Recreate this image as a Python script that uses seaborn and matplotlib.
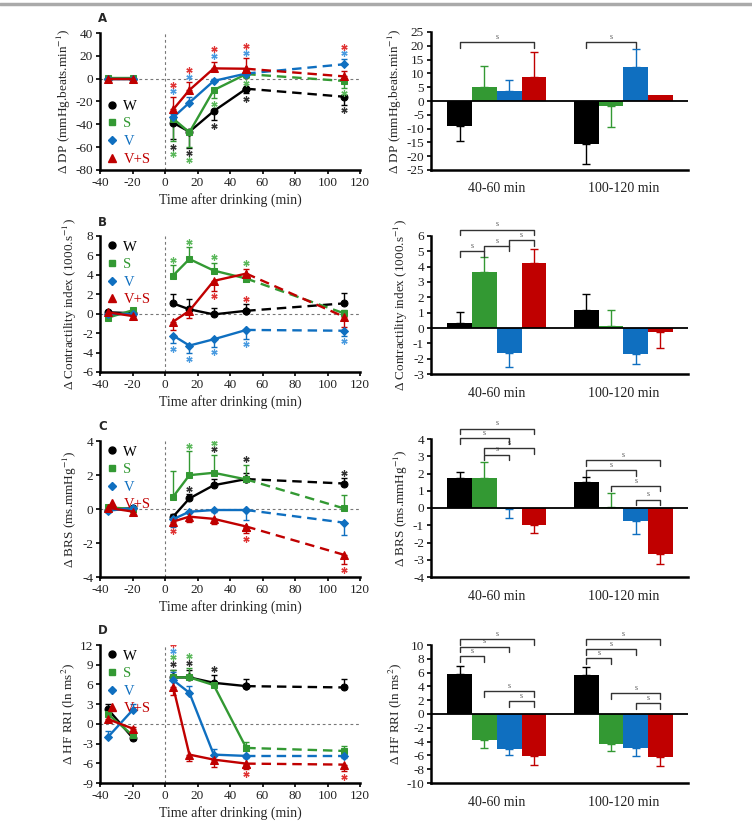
import numpy as np
import pandas as pd
import matplotlib
matplotlib.use('Agg')
import matplotlib.pyplot as plt
from matplotlib.lines import Line2D
from matplotlib.container import BarContainer
import seaborn as sns

# ---- data ----
groups = ['W', 'S', 'V', 'V+S']
periods = ['40-60 min', '100-120 min']
times = [-35, -20, 5, 15, 30, 50, 110]

# panel A: double product
A_line = {
    'W': [0, 0, -38.6, -46.5, -28.4, -8.8, -15.8],
    'S': [0.5, 0.5, -35, -47, -10, 4, -2],
    'V': [0, 0, -34, -21, -2, 4.5, 12.6],
    'V+S': [0, 0, -27, -10, 9, 8.7, 2],
}
A_line_err = {
    'W': [0, 0, -14, -14, -8, -4, -7],
    'S': [0, 0, -20, -13, -7, -3, -6],
    'V': [0, 0, 3, 5, 2, 3, 5],
    'V+S': [0, 0, 11, 7, 6, 9, 5],
}
A_bar = {'W': [-9.2, -15.7], 'S': [5.2, -1.8], 'V': [3.8, 12.2], 'V+S': [8.7, 2.2]}
A_bar_err = {'W': [-5.3, -7.1], 'S': [7.5, -7.5], 'V': [3.7, 6.8], 'V+S': [9.2, 0]}

# panel B: contractility index
B_line = {
    'W': [0.15, 0.05, 1.06, 0.45, -0.07, 0.3, 1.06],
    'S': [-0.4, 0.35, 3.93, 5.63, 4.44, 3.62, 0.05],
    'V': [0, 0, -2.25, -3.28, -2.63, -1.67, -1.75],
    'V+S': [0.14, -0.24, -0.82, 0.3, 3.38, 4.13, -0.3],
}
B_line_err = {
    'W': [0, 0, 1.0, 1.05, 0.67, 0.65, 1.1],
    'S': [0, 0, 1.05, 1.2, 0.8, 0.5, 0.3],
    'V': [0, 0, -0.8, -0.8, -0.8, -0.9, -0.55],
    'V+S': [0, 0, -0.9, -0.75, -1.0, 0.5, -1.05],
}
B_bar = {'W': [0.35, 1.15], 'S': [3.63, 0.1], 'V': [-1.63, -1.72], 'V+S': [4.22, -0.27]}
B_bar_err = {'W': [0.7, 1.05], 'S': [1.02, 1.1], 'V': [-0.92, -0.63], 'V+S': [0.93, -1.03]}

# panel C: baroreflex sensitivity
C_line = {
    'W': [-0.05, 0.05, -0.45, 0.62, 1.4, 1.76, 1.5],
    'S': [0.1, 0.0, 0.72, 1.99, 2.13, 1.74, 0.04],
    'V': [-0.1, 0.05, -0.6, -0.16, -0.06, -0.06, -0.8],
    'V+S': [0.07, -0.15, -0.74, -0.45, -0.58, -1.03, -2.69],
}
C_line_err = {
    'W': [0, 0, 0.15, 0.26, 0.34, 0.34, 0.3],
    'S': [0, 0, 1.5, 1.4, 1.07, 0.87, 0.78],
    'V': [0, 0, -0.47, -0.1, -0.1, -0.58, -0.72],
    'V+S': [0, 0, -0.25, -0.3, -0.3, -0.39, -0.55],
}
C_bar = {'W': [1.75, 1.5], 'S': [1.75, 0.03], 'V': [-0.05, -0.78], 'V+S': [-1.0, -2.65]}
C_bar_err = {'W': [0.35, 0.32], 'S': [0.9, 0.82], 'V': [-0.55, -0.72], 'V+S': [-0.45, -0.6]}

# panel D: HF power of RR intervals
D_line = {
    'W': [2.2, -2.1, 7.07, 7.07, 6.25, 5.74, 5.54],
    'S': [1.47, -1.73, 7.07, 7.07, 5.9, -3.66, -4.12],
    'V': [-1.98, 2.08, 6.66, 4.73, -4.68, -4.88, -4.88],
    'V+S': [0.71, -0.71, 5.64, -4.68, -5.44, -6.05, -6.2],
}
D_line_err = {
    'W': [0.8, -0.3, 1.2, 1.2, 1.25, 1.16, 1.27],
    'S': [0.5, -0.4, 1.2, 1.4, 0.3, 0.9, 0.8],
    'V': [0.9, 0.9, 1.3, 1.1, 0.9, -0.3, -0.3],
    'V+S': [-0.35, 0.3, -1.3, -1.0, -1.1, -0.75, -1.0],
}
D_bar = {'W': [5.75, 5.6], 'S': [-3.8, -4.35], 'V': [-5.0, -4.9], 'V+S': [-6.05, -6.2]}
D_bar_err = {'W': [1.25, 1.25], 'S': [-1.1, -1.05], 'V': [-1.0, -1.2], 'V+S': [-1.35, -1.3]}

# significance stars on the time course: (group, time, side, anchor group, stack level)
A_stars = [('V', t, 1, 'V+S', 0) for t in [5, 15, 30, 50]] + \
          [('V+S', t, 1, 'V+S', 1) for t in [5, 15, 30, 50]] + \
          [('V', 110, 1, 'V', 0), ('V+S', 110, 1, 'V', 1),
           ('W', 5, -1, 'S', 0), ('S', 5, -1, 'S', 1),
           ('W', 15, -1, 'W', 0), ('S', 15, -1, 'W', 1),
           ('W', 30, -1, 'W', 0), ('S', 30, -1, 'S', 0),
           ('W', 50, -1, 'W', 0), ('S', 50, -1, 'S', 0),
           ('W', 110, -1, 'W', 0), ('S', 110, -1, 'S', 0)]
B_stars = [('S', t, 1, 'S', 0) for t in [5, 15, 30]] + [('S', 50, 1, 'V+S', 0)] + \
          [('V', t, -1, 'V', 0) for t in [5, 15, 30, 50, 110]] + \
          [('V+S', 30, -1, 'V+S', 0), ('V+S', 50, -1, 'V+S', 3)]
C_stars = [('S', 15, 1, 'S', 0), ('W', 15, 1, 'W', 0), ('W', 30, 1, 'S', 0),
           ('S', 30, 1, 'S', 1), ('W', 50, 1, 'S', 0), ('W', 110, 1, 'W', 0)] + \
          [('V+S', t, -1, 'V+S', 0) for t in [5, 50, 110]]
D_stars = [(g, 5, 1, 'W', k) for k, g in enumerate(groups)] + \
          [('W', 15, 1, 'S', 0), ('S', 15, 1, 'S', 1), ('W', 30, 1, 'W', 0),
           ('V+S', 50, -1, 'V+S', 0), ('V+S', 110, -1, 'V+S', 0)]

# comparison brackets on the bar charts: (period index, bar i, bar j, height)
A_brackets = [(0, 0, 3, 21.2), (1, 0, 2, 21.3)]
B_brackets = [(0, 0, 3, 6.4), (0, 0, 1, 5.0), (0, 1, 2, 5.35), (0, 2, 3, 5.74)]
C_brackets = [(0, 0, 3, 4.6), (0, 0, 2, 4.03), (0, 1, 3, 3.45), (0, 1, 2, 3.1),
              (1, 0, 3, 2.77), (1, 0, 2, 2.19), (1, 1, 3, 1.28), (1, 2, 3, 0.48)]
D_brackets = [(0, 0, 3, 10.8), (0, 0, 2, 9.74), (0, 0, 1, 8.4), (0, 1, 3, 3.33), (0, 2, 3, 1.88),
              (1, 0, 3, 10.8), (1, 0, 2, 9.35), (1, 0, 1, 8.05), (1, 1, 3, 3.0), (1, 2, 3, 1.54)]

ylabels = [r'Δ DP (mmHg.beats.min$^{-1}$)', r'Δ Contractility index (1000.s$^{-1}$)',
           r'Δ BRS (ms.mmHg$^{-1}$)', r'Δ HF RRI (ln ms$^{2}$)']

# ---- style ----
sns.set_style('ticks')
plt.rcParams['font.family'] = ['Liberation Serif', 'DejaVu Serif']
plt.rcParams['mathtext.fontset'] = 'stix'
plt.rcParams['axes.unicode_minus'] = False

colors = {'W': '#000000', 'S': '#339933', 'V': '#0f6fc0', 'V+S': '#c00000'}
star_colors = {'W': '#333333', 'S': '#5cb85c', 'V': '#4a9be0', 'V+S': '#e03535'}
markers = {'W': 'o', 'S': 's', 'V': 'D', 'V+S': '^'}
msizes = {'W': 5, 'S': 5, 'V': 3.8, 'V+S': 5.5}

W_PX, H_PX = 752, 823
fig = plt.figure(figsize=(W_PX / 100, H_PX / 100), dpi=100)


def rect(left, right, top, bottom):
    return [left / W_PX, 1 - bottom / H_PX, (right - left) / W_PX, (bottom - top) / H_PX]


def style_axes(ax):
    sns.despine(ax=ax)
    for s in ['left', 'bottom']:
        ax.spines[s].set_linewidth(1.8)
        ax.spines[s].set_color('black')
    ax.tick_params(width=1.2, length=3, labelsize=9.5, pad=2, color='black')
    for lab in ax.get_xticklabels() + ax.get_yticklabels():
        lab.set_color('#222222')


def draw_time_course(ax, line, err, stars, ylim, yticks, ylabel, legend_loc):
    t = np.array(times)
    ax.axvline(0, color='#777777', lw=0.8, ls=(0, (2.5, 2.5)), zorder=0)
    ax.axhline(0, color='#777777', lw=0.8, ls=(0, (2.5, 2.5)), zorder=0)
    for g in groups:
        y = np.array(line[g])
        e = np.array(err[g])
        c = colors[g]
        ax.errorbar(t, y, yerr=[np.clip(-e, 0, None), np.clip(e, 0, None)], fmt='none',
                    ecolor=c, elinewidth=1.0, capsize=2.5, capthick=1.0, zorder=2)
        kw = dict(color=c, marker=markers[g], markersize=msizes[g], markeredgecolor=c,
                  linewidth=1.7, ax=ax, zorder=3)
        sns.lineplot(x=t[:2], y=y[:2], **kw)
        sns.lineplot(x=t[2:6], y=y[2:6], **kw)
        sns.lineplot(x=t[5:], y=y[5:], linestyle=(0, (4, 2.5)), **kw)
    rng = ylim[1] - ylim[0]
    pad, step = 0.04 * rng, 0.048 * rng
    for g, tt, side, anchor, level in stars:
        i = times.index(tt)
        m, e = line[anchor][i], err[anchor][i]
        base = m + e if np.sign(e) == side else m
        ys = base + side * (pad + level * step)
        ax.plot(tt, ys, marker=(6, 2, 0), markersize=4.5, mew=0.9, color=star_colors[g],
                linestyle='none', zorder=4)
    ax.set_xlim(-40, 120)
    ax.set_xticks(range(-40, 121, 20))
    ax.set_ylim(*ylim)
    ax.set_yticks(yticks)
    ax.set_xlabel('Time after drinking (min)', fontsize=10, labelpad=3)
    ax.set_ylabel(ylabel, fontsize=9.5, labelpad=2)
    handles = [Line2D([], [], marker=markers[g], color=colors[g], markersize=msizes[g],
                      linestyle='none') for g in groups]
    ax.legend(handles, groups, loc=legend_loc, frameon=False, fontsize=10.5,
              handletextpad=0.3, labelspacing=0.3, borderaxespad=0.1,
              handlelength=1.0, borderpad=0.2, labelcolor='markerfacecolor')
    style_axes(ax)


def draw_bars(ax, bar, bar_err, brackets, ylim, yticks, ylabel):
    df = pd.DataFrame([{'period': p, 'group': g, 'value': bar[g][k]}
                       for g in groups for k, p in enumerate(periods)])
    sns.barplot(data=df, x='period', y='value', hue='group', order=periods, hue_order=groups,
                palette=colors, width=0.78, errorbar=None, legend=False, ax=ax,
                saturation=1, linewidth=0)
    bar_conts = [c for c in ax.containers if isinstance(c, BarContainer)]
    centers = {}
    for j, cont in enumerate(bar_conts):
        g = groups[j]
        for k, b in enumerate(cont):
            x = b.get_x() + b.get_width() / 2
            centers[(k, j)] = x
            e = bar_err[g][k]
            if e == 0:
                continue
            ax.errorbar([x], [bar[g][k]], yerr=[[max(-e, 0)], [max(e, 0)]], fmt='none',
                        ecolor=colors[g], elinewidth=1.0, capsize=3, capthick=1.0, zorder=3)
    ax.axhline(0, color='black', lw=1.3, zorder=4)
    rng = ylim[1] - ylim[0]
    drop = 0.04 * rng
    for k, i, j, h in brackets:
        x1, x2 = centers[(k, i)], centers[(k, j)]
        ax.plot([x1, x1, x2, x2], [h - drop, h, h, h - drop], color='#333333', lw=1.0,
                clip_on=False, zorder=5)
        ax.text((x1 + x2) / 2, h + 0.01 * rng, 's', fontsize=5.5, color='#555555',
                ha='center', va='bottom', clip_on=False)
    ax.set_xlim(-0.52, 1.51)
    ax.set_ylim(*ylim)
    ax.set_yticks(yticks)
    ax.set_xlabel('')
    ax.set_ylabel(ylabel, fontsize=9.5, labelpad=2)
    style_axes(ax)
    ax.tick_params(axis='x', length=0, pad=9, labelsize=10)


left_rects = [rect(100, 360, 33, 170), rect(100, 360, 236, 372),
              rect(100, 360, 441, 577), rect(100, 360, 645, 783)]
right_rects = [rect(431, 688, 32, 170), rect(431, 688, 236, 374),
               rect(431, 688, 439, 577), rect(431, 688, 645, 783)]

panels = [
    (A_line, A_line_err, A_stars, (-80, 40), range(-80, 41, 20), 'lower left',
     A_bar, A_bar_err, A_brackets, (-25, 25), range(-25, 26, 5)),
    (B_line, B_line_err, B_stars, (-6, 8), range(-6, 9, 2), 'upper left',
     B_bar, B_bar_err, B_brackets, (-3, 6), range(-3, 7, 1)),
    (C_line, C_line_err, C_stars, (-4, 4), range(-4, 5, 2), 'upper left',
     C_bar, C_bar_err, C_brackets, (-4, 4), range(-4, 5, 1)),
    (D_line, D_line_err, D_stars, (-9, 12), range(-9, 13, 3), 'upper left',
     D_bar, D_bar_err, D_brackets, (-10, 10), range(-10, 11, 2)),
]
letter_y = [19, 222, 426, 631]

for n, (line, lerr, stars, lylim, lyt, lloc, bar, berr, brk, bylim, byt) in enumerate(panels):
    ax_l = fig.add_axes(left_rects[n])
    draw_time_course(ax_l, line, lerr, stars, lylim, list(lyt), ylabels[n], lloc)
    ax_r = fig.add_axes(right_rects[n])
    draw_bars(ax_r, bar, berr, brk, bylim, list(byt), ylabels[n])
    fig.text(98 / W_PX, 1 - letter_y[n] / H_PX, 'ABCD'[n], fontsize=8.5, fontweight='bold',
             family='DejaVu Sans', ha='left', va='center')

fig.add_artist(Line2D([0, 1], [1 - 4 / H_PX, 1 - 4 / H_PX], color='#aaaaaa', lw=2.5,
                      transform=fig.transFigure))

fig.savefig('out.png', dpi=100)
